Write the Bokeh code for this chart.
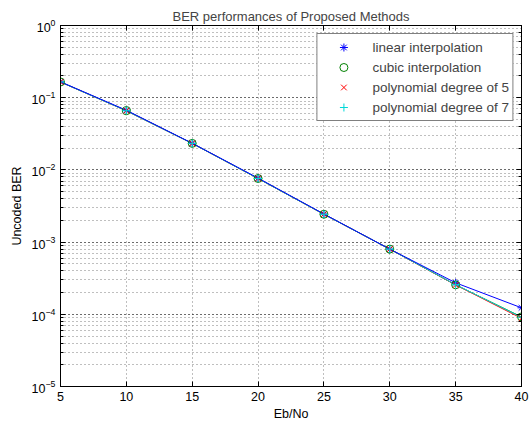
from bokeh.plotting import figure
from bokeh.models import LinearAxis, LogAxis, FixedTicker, Legend, LegendItem, Range1d
from bokeh.embed import file_html
from bokeh.resources import INLINE

ebno = [5, 10, 15, 20, 25, 30, 35, 40]
ber_linear = [0.166, 0.067, 0.0234, 0.0077, 0.00245, 0.00080, 0.000273, 0.000123]
ber_cubic = [0.165, 0.066, 0.0233, 0.0076, 0.00243, 0.00080, 0.000256, 0.000092]
ber_poly5 = [0.165, 0.066, 0.0233, 0.0076, 0.00243, 0.00080, 0.000255, 0.000088]
ber_poly7 = [0.165, 0.066, 0.0233, 0.0076, 0.00243, 0.00080, 0.000257, 0.000091]
x_ticks = [5, 10, 15, 20, 25, 30, 35, 40]
names = ["linear interpolation", "cubic interpolation", "polynomial degree of 5", "polynomial degree of 7"]

FONT = "Liberation Sans"

p = figure(width=529, height=423, y_axis_type="log", output_backend="svg", toolbar_location=None,
           x_range=Range1d(5, 40), y_range=Range1d(1e-5, 1),
           min_border_left=60, min_border_right=8, min_border_top=25, min_border_bottom=36,
           title="BER performances of Proposed Methods")
p.title.align = "center"
p.title.text_font = FONT
p.title.text_font_size = "13px"
p.title.text_font_style = "normal"
p.title.offset = 0
p.title.standoff = 4
p.outline_line_color = "black"
p.outline_line_width = 1
p.background_fill_color = "white"
p.border_fill_color = "white"

for ax in (p.xaxis[0], p.yaxis[0]):
    ax.major_tick_in = 5
    ax.major_tick_out = 0
    ax.minor_tick_in = 3
    ax.minor_tick_out = 0
    ax.axis_line_color = "black"
    ax.major_tick_line_color = "black"
    ax.minor_tick_line_color = "black"
    ax.major_label_text_font = FONT
    ax.major_label_text_font_size = "12.5px"
    ax.major_label_text_color = "black"
    ax.axis_label_text_font = FONT
    ax.axis_label_text_font_size = "12.5px"
    ax.axis_label_text_font_style = "normal"
    ax.axis_label_text_color = "black"

p.xaxis[0].ticker = FixedTicker(ticks=x_ticks)
p.xaxis[0].minor_tick_line_color = None
p.xaxis[0].axis_label = "Eb/No"
p.xaxis[0].axis_label_standoff = 3
p.xaxis[0].major_label_standoff = 5
p.yaxis[0].axis_label = "Uncoded BER"
p.yaxis[0].axis_label_standoff = 5
p.yaxis[0].major_label_standoff = 5

# box axes (top and right)
top = LinearAxis(ticker=FixedTicker(ticks=x_ticks), major_label_text_font_size="0px",
                 major_tick_in=5, major_tick_out=0, minor_tick_line_color=None, axis_line_color="black")
right = LogAxis(major_label_text_font_size="0px", major_tick_in=5, major_tick_out=0,
                minor_tick_in=3, minor_tick_out=0, axis_line_color="black")
p.add_layout(top, "above")
p.add_layout(right, "right")
top.major_label_text_color = None
right.major_label_text_color = None
top.major_label_standoff = 0
right.major_label_standoff = 0

p.xgrid.ticker = FixedTicker(ticks=x_ticks)
p.xgrid.grid_line_color = "black"
p.xgrid.grid_line_dash = "1 3"
p.xgrid.grid_line_alpha = 0.5
p.ygrid.grid_line_color = "black"
p.ygrid.grid_line_dash = "1 3"
p.ygrid.grid_line_alpha = 0.5
p.ygrid.minor_grid_line_color = "black"
p.ygrid.minor_grid_line_dash = "1 3"
p.ygrid.minor_grid_line_alpha = 0.5

series = [ber_linear, ber_cubic, ber_poly5, ber_poly7]
colors = ["#0000ff", "#008000", "#ff0000", "#00d8d8"]
markers = ["asterisk", "circle", "x", "cross"]

# lines: draw linear last so the blue line sits on top, as in the reference
for idx in [1, 2, 3, 0]:
    p.line(ebno, series[idx], line_color=colors[idx], line_width=1)

items = []
for ys, c, m, n in zip(series, colors, markers, names):
    r = p.scatter(ebno, ys, marker=m, size=8, line_color=c, fill_color=None, line_width=1)
    items.append(LegendItem(label=n, renderers=[r]))

legend = Legend(items=items, location="top_right")
legend.border_line_color = "black"
legend.border_line_width = 1
legend.background_fill_color = "white"
legend.background_fill_alpha = 1
legend.label_text_font = FONT
legend.label_text_font_size = "13.5px"
legend.label_height = 20
legend.glyph_height = 20
legend.glyph_width = 46
legend.label_standoff = 6
legend.spacing = 0
legend.padding = 3
legend.margin = 8
p.add_layout(legend, "center")

open("out.html", "w").write(file_html(p, INLINE))
